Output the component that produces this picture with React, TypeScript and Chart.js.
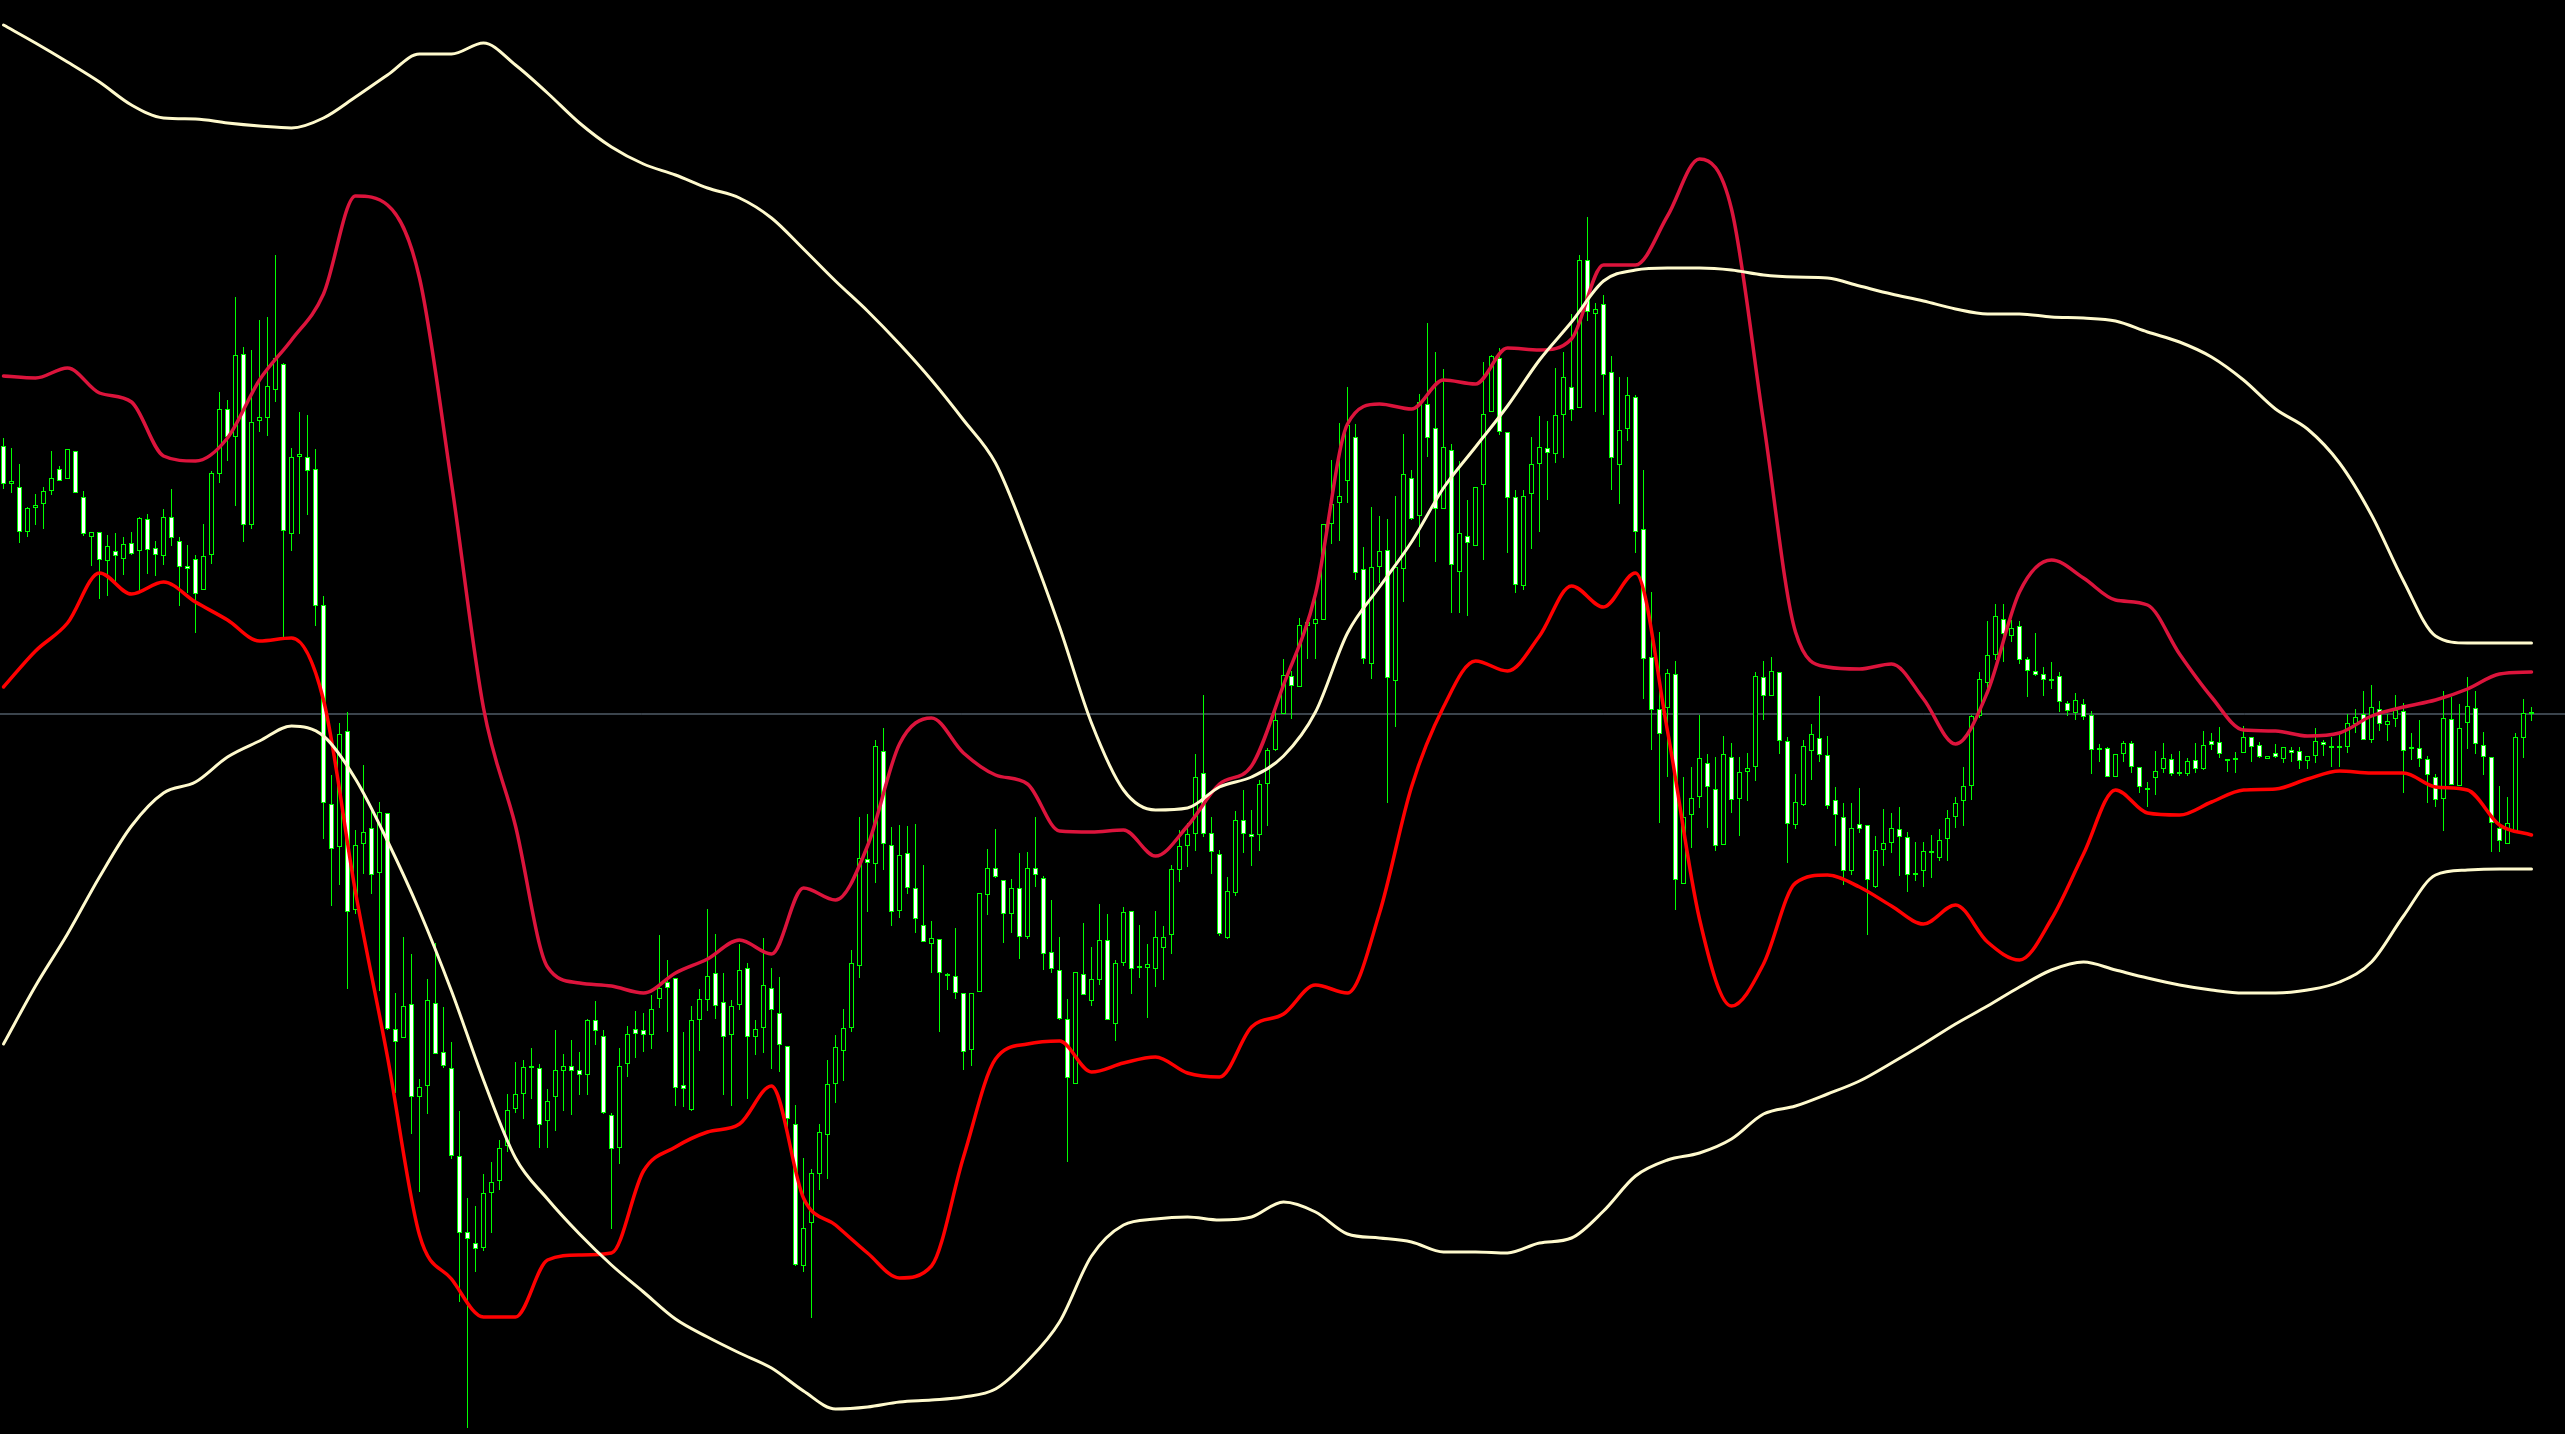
import React, { useEffect, useRef } from "react";
import { Chart, registerables } from "chart.js";

Chart.register(...registerables);

const WIDTH = 2565;
const HEIGHT = 1434;

// Candle OHLC values (price units, one entry per bar)
const opens = [
  988, 950, 947, 902, 926, 930, 943, 965, 955, 983,
  937, 897, 902, 873, 883, 875, 891, 883, 915, 886,
  878, 917, 893, 868, 875, 844, 879, 960, 1025, 997,
  1080, 909, 1013, 1016, 1044, 1070, 900, 977, 977, 965,
  829, 630, 587, 703, 524, 590, 606, 561, 621, 405,
  396, 430, 337, 348, 431, 382, 366, 278, 202, 191,
  186, 241, 253, 288, 325, 340, 366, 366, 313, 337,
  363, 368, 364, 359, 414, 398, 319, 286, 370, 405,
  404, 399, 435, 452, 456, 349, 324, 414, 434, 461,
  432, 399, 429, 466, 397, 406, 446, 421, 388, 310,
  168, 211, 260, 299, 350, 383, 406, 468, 575, 570,
  683, 589, 523, 581, 546, 509, 490, 495, 459, 458,
  441, 384, 442, 539, 566, 554, 520, 546, 497, 566,
  556, 482, 464, 415, 350, 460, 433, 454, 494, 410,
  471, 523, 467, 466, 465, 486, 499, 564, 588, 600,
  661, 601, 580, 496, 541, 614, 600, 599, 650, 684,
  720, 758, 747, 808, 810, 814, 910, 931, 953, 997,
  865, 770, 867, 884, 753, 865, 956, 918, 1030, 1006,
  925, 984, 862, 898, 888, 949, 1022, 1076, 1002, 937,
  848, 940, 970, 986, 980, 1019, 1047, 1026, 1174, 1120,
  1130, 1062, 969, 1005, 1037, 905, 777, 725, 726, 760,
  550, 619, 637, 671, 645, 589, 677, 635, 662, 667,
  757, 738, 762, 693, 609, 629, 683, 696, 679, 634,
  617, 563, 610, 609, 547, 584, 591, 605, 597, 561,
  563, 581, 576, 595, 617, 633, 648, 718, 751, 779,
  815, 798, 808, 775, 763, 760, 755, 758, 731, 721,
  730, 719, 684, 686, 657, 680, 691, 667, 644, 656,
  665, 675, 660, 660, 674, 665, 693, 692, 675, 674,
  681, 697, 689, 675, 681, 675, 684, 683, 673, 678,
  692, 687, 686, 687, 710, 720, 694, 725, 709, 715,
  723, 687, 686, 675, 657, 635, 715, 648, 711, 726,
  689, 677, 606, 590, 603, 696, 720,
];

const highs = [
  996, 986, 970, 927, 940, 947, 983, 968, 985, 983,
  943, 902, 902, 899, 901, 897, 902, 917, 920, 893,
  925, 945, 897, 889, 879, 910, 963, 1042, 1034, 1137,
  1087, 1084, 1114, 1117, 1179, 1071, 986, 1022, 1019, 985,
  838, 659, 711, 722, 604, 669, 628, 632, 621, 441,
  497, 480, 355, 455, 491, 427, 392, 323, 236, 228,
  260, 272, 294, 340, 372, 374, 386, 370, 345, 404,
  380, 394, 382, 415, 433, 404, 321, 386, 408, 423,
  421, 439, 499, 474, 456, 402, 428, 445, 525, 500,
  461, 434, 490, 471, 414, 496, 466, 457, 388, 329,
  276, 265, 310, 374, 399, 425, 484, 617, 620, 694,
  706, 607, 609, 608, 610, 569, 513, 495, 461, 506,
  441, 441, 541, 585, 605, 554, 555, 581, 582, 617,
  558, 534, 497, 435, 462, 511, 487, 530, 520, 474,
  527, 523, 509, 490, 523, 508, 569, 604, 611, 680,
  739, 617, 584, 557, 623, 644, 624, 654, 686, 729,
  775, 763, 816, 816, 839, 910, 974, 1011, 1047, 1010,
  887, 927, 918, 915, 938, 1000, 964, 1040, 1111, 1082,
  1065, 990, 973, 934, 947, 1072, 1079, 1086, 1002, 944,
  944, 997, 1018, 1013, 1066, 1082, 1120, 1179, 1217, 1131,
  1139, 1078, 1057, 1057, 1039, 964, 842, 802, 765, 773,
  657, 667, 719, 680, 677, 698, 691, 677, 681, 762,
  773, 777, 762, 697, 660, 694, 710, 738, 698, 647,
  631, 631, 646, 609, 598, 625, 621, 627, 602, 592,
  592, 599, 605, 624, 637, 667, 719, 762, 813, 830,
  830, 814, 813, 777, 801, 767, 772, 762, 733, 741,
  735, 723, 690, 687, 680, 693, 693, 667, 652, 683,
  691, 680, 683, 676, 691, 703, 701, 707, 675, 682,
  708, 697, 692, 678, 690, 687, 687, 687, 678, 706,
  694, 697, 699, 720, 725, 743, 749, 733, 720, 739,
  731, 701, 714, 678, 660, 743, 737, 730, 757, 743,
  702, 677, 648, 637, 701, 735, 727,
];

const lows = [
  945, 941, 891, 897, 909, 905, 939, 953, 955, 941,
  898, 868, 835, 838, 852, 859, 879, 841, 860, 858,
  869, 888, 828, 841, 801, 844, 870, 951, 973, 928,
  892, 905, 1002, 998, 1032, 796, 883, 900, 919, 808,
  595, 528, 549, 445, 520, 560, 540, 443, 404, 341,
  396, 300, 242, 320, 380, 366, 275, 132, 6, 162,
  183, 201, 244, 282, 321, 315, 335, 286, 286, 303,
  323, 319, 339, 339, 389, 320, 205, 270, 357, 376,
  382, 385, 426, 402, 328, 327, 323, 383, 423, 415,
  339, 328, 424, 335, 379, 381, 365, 362, 301, 168,
  162, 116, 244, 255, 331, 353, 402, 456, 522, 551,
  564, 508, 516, 540, 501, 492, 461, 402, 444, 435,
  364, 368, 442, 519, 556, 491, 501, 475, 495, 547,
  464, 461, 414, 272, 350, 439, 428, 449, 414, 393,
  468, 440, 456, 416, 447, 454, 480, 552, 567, 583,
  597, 560, 498, 495, 538, 581, 568, 583, 608, 683,
  720, 715, 747, 775, 775, 814, 890, 893, 931, 854,
  770, 755, 851, 631, 707, 832, 914, 887, 977, 872,
  925, 821, 821, 818, 888, 874, 1022, 999, 881, 841,
  844, 885, 902, 934, 971, 976, 1013, 1026, 1113, 1022,
  1019, 944, 930, 993, 881, 735, 684, 611, 657, 524,
  550, 586, 626, 606, 583, 589, 621, 598, 633, 653,
  714, 738, 680, 571, 605, 628, 654, 672, 625, 588,
  549, 559, 601, 499, 546, 568, 581, 558, 542, 553,
  547, 556, 573, 573, 606, 608, 634, 716, 746, 774,
  772, 792, 770, 737, 758, 738, 745, 722, 718, 714,
  714, 660, 672, 657, 657, 672, 661, 641, 627, 639,
  661, 658, 658, 658, 661, 664, 684, 676, 662, 661,
  681, 672, 676, 675, 676, 671, 672, 665, 665, 671,
  678, 667, 667, 681, 701, 694, 691, 703, 693, 707,
  641, 674, 667, 631, 627, 603, 649, 648, 685, 680,
  659, 582, 582, 590, 603, 676, 713,
];

const closes = [
  950, 953, 902, 926, 929, 943, 956, 953, 985, 941,
  900, 902, 874, 888, 878, 890, 880, 916, 884, 879,
  917, 896, 867, 865, 840, 878, 961, 1025, 997, 1079,
  909, 1012, 1017, 1048, 1076, 903, 977, 980, 963, 828,
  631, 585, 700, 522, 589, 602, 559, 622, 405, 392,
  428, 337, 347, 434, 380, 368, 278, 201, 195, 185,
  241, 252, 286, 324, 340, 367, 368, 309, 333, 364,
  368, 363, 359, 414, 403, 321, 285, 368, 400, 400,
  399, 425, 446, 446, 346, 345, 414, 435, 458, 428,
  397, 428, 464, 397, 405, 449, 424, 389, 315, 169,
  206, 261, 302, 350, 387, 406, 471, 576, 571, 688,
  590, 522, 579, 546, 515, 492, 496, 461, 458, 441,
  382, 441, 541, 566, 557, 520, 546, 497, 566, 559,
  480, 465, 415, 356, 462, 439, 455, 494, 414, 471,
  522, 465, 466, 470, 497, 497, 565, 588, 600, 657,
  600, 582, 500, 543, 614, 600, 597, 650, 684, 714,
  759, 748, 809, 812, 815, 910, 930, 938, 1009, 861,
  775, 867, 883, 756, 867, 960, 915, 1032, 996, 925,
  987, 869, 901, 891, 947, 1020, 1078, 1002, 936, 849,
  938, 970, 987, 981, 1019, 1057, 1024, 1174, 1122, 1125,
  1059, 976, 1004, 1039, 902, 775, 724, 700, 761, 554,
  617, 636, 676, 647, 588, 680, 634, 662, 666, 758,
  738, 763, 693, 610, 632, 688, 700, 679, 628, 619,
  563, 606, 605, 554, 584, 591, 606, 597, 559, 559,
  583, 582, 594, 616, 631, 648, 718, 755, 779, 818,
  800, 806, 774, 763, 759, 754, 753, 732, 723, 734,
  717, 684, 685, 657, 680, 691, 667, 647, 645, 663,
  676, 660, 661, 673, 665, 689, 689, 680, 673, 676,
  697, 687, 677, 678, 677, 687, 681, 673, 678, 693,
  689, 686, 688, 711, 717, 694, 727, 710, 713, 724,
  683, 685, 675, 659, 634, 716, 649, 706, 728, 690,
  677, 611, 593, 611, 697, 721, 720,
];

// Indicator bands, one value every BAND_STEP bars (bar 0, 4, 8, ... 316)
const BAND_STEP = 4;

const outerUpper = [
  1409, 1391, 1372, 1352, 1329, 1316, 1315, 1311, 1308, 1306,
  1316, 1337, 1359, 1380, 1380, 1391, 1369, 1341, 1311, 1287,
  1270, 1259, 1246, 1236, 1216, 1185, 1153, 1123, 1090, 1054,
  1014, 971, 894, 807, 711, 644, 624, 626, 647, 657,
  678, 722, 801, 847, 892, 946, 987, 1028, 1074, 1112,
  1153, 1164, 1166, 1166, 1164, 1159, 1157, 1156, 1148, 1140,
  1133, 1125, 1120, 1120, 1117, 1116, 1113, 1102, 1092, 1077,
  1054, 1025, 1005, 971, 919, 853, 798, 791, 791, 791,
];

const outerLower = [
  390, 448, 500, 557, 608, 641, 652, 677, 693, 708,
  698, 655, 593, 523, 443, 354, 276, 235, 200, 169,
  142, 115, 97, 81, 66, 43, 25, 27, 32, 34,
  37, 45, 73, 112, 178, 209, 215, 217, 214, 217,
  232, 222, 200, 196, 192, 182, 182, 181, 191, 196,
  223, 258, 274, 281, 295, 320, 328, 340, 353, 371,
  390, 410, 428, 447, 464, 472, 464, 456, 449, 444,
  441, 441, 444, 452, 472, 518, 559, 564, 565, 565,
];

const innerUpper = [
  1058, 1056, 1066, 1041, 1032, 978, 973, 996, 1054, 1094,
  1140, 1238, 1229, 1156, 951, 726, 608, 467, 451, 448,
  441, 461, 475, 494, 480, 546, 534, 588, 690, 716,
  681, 659, 650, 603, 602, 604, 578, 608, 650, 668,
  749, 840, 1010, 1030, 1025, 1054, 1050, 1086, 1084, 1095,
  1169, 1169, 1218, 1275, 1225, 1012, 802, 767, 765, 770,
  735, 690, 742, 842, 874, 856, 834, 829, 780, 737,
  704, 703, 698, 701, 718, 727, 734, 745, 760, 762,
];

const innerLower = [
  747, 783, 811, 861, 840, 852, 832, 814, 793, 796,
  734, 542, 377, 199, 155, 117, 117, 174, 179, 181,
  263, 287, 302, 310, 348, 236, 209, 181, 156, 168,
  277, 375, 390, 393, 362, 371, 377, 361, 357, 407,
  420, 449, 441, 521, 647, 727, 773, 763, 798, 848,
  827, 861, 703, 515, 428, 470, 551, 559, 547, 528,
  510, 529, 492, 474, 515, 580, 644, 621, 619, 632,
  644, 645, 655, 663, 661, 661, 647, 644, 609, 599,
];

const PRICE_LEVEL = 720;

const CANDLE_LINE = "#00FF00";
const BULL_FILL = "#000000";
const BEAR_FILL = "#FFFFFF";
const OUTER_COLOR = "#FFFACD";
const INNER_UP_COLOR = "#DC143C";
const INNER_LOW_COLOR = "#FF0000";
const LEVEL_COLOR = "#778899";

export default function App() {
  const canvasRef = useRef<HTMLCanvasElement | null>(null);

  useEffect(() => {
    const body = document.body;
    const prev = {
      margin: body.style.margin,
      background: body.style.background,
      overflow: body.style.overflow,
    };
    body.style.margin = "0";
    body.style.background = "#000";
    body.style.overflow = "hidden";

    const canvas = canvasRef.current;
    if (!canvas) return;

    const idx = opens.map((_, i) => i);
    const wicks = idx.map((i) => ({ x: i, y: [lows[i], highs[i]] }));
    const bodies = idx.map((i) => ({
      x: i,
      y: [Math.min(opens[i], closes[i]), Math.max(opens[i], closes[i])],
    }));
    const bodyFill = idx.map((i) => (closes[i] < opens[i] ? BEAR_FILL : BULL_FILL));
    const band = (vals: number[]) => vals.map((v, k) => ({ x: k * BAND_STEP, y: v }));

    const xMin = -0.4375;
    const xMax = xMin + WIDTH / 8;

    const lineBase = {
      type: "line" as const,
      pointRadius: 0,
      pointHoverRadius: 0,
      cubicInterpolationMode: "monotone" as const,
      fill: false,
      borderJoinStyle: "round" as const,
      borderCapStyle: "round" as const,
    };

    const chart = new Chart(canvas, {
      type: "bar",
      data: {
        datasets: [
          { ...lineBase, label: "Outer upper", data: band(outerUpper), borderColor: OUTER_COLOR, borderWidth: 3, order: 0 },
          { ...lineBase, label: "Outer lower", data: band(outerLower), borderColor: OUTER_COLOR, borderWidth: 3, order: 0 },
          { ...lineBase, label: "Inner upper", data: band(innerUpper), borderColor: INNER_UP_COLOR, borderWidth: 3.5, order: 0 },
          { ...lineBase, label: "Inner lower", data: band(innerLower), borderColor: INNER_LOW_COLOR, borderWidth: 3.5, order: 0 },
          {
            type: "bar",
            label: "Bodies",
            data: bodies as any,
            backgroundColor: bodyFill,
            borderColor: CANDLE_LINE,
            borderWidth: 1,
            borderSkipped: false,
            barThickness: 5,
            minBarLength: 2,
            grouped: false,
            inflateAmount: 0,
            order: 5,
          },
          {
            type: "bar",
            label: "Wicks",
            data: wicks as any,
            backgroundColor: CANDLE_LINE,
            borderWidth: 0,
            barThickness: 1,
            minBarLength: 1,
            grouped: false,
            inflateAmount: 0,
            order: 6,
          },
          {
            type: "line",
            label: "Level",
            data: [
              { x: xMin, y: PRICE_LEVEL },
              { x: xMax, y: PRICE_LEVEL },
            ],
            pointRadius: 0,
            borderColor: LEVEL_COLOR,
            borderWidth: 1,
            order: 7,
          },
        ] as any,
      },
      options: {
        animation: false,
        responsive: false,
        maintainAspectRatio: false,
        devicePixelRatio: 1,
        layout: { padding: 0 },
        events: [],
        plugins: {
          legend: { display: false },
          tooltip: { enabled: false },
          title: { display: false },
        },
        scales: {
          x: {
            type: "linear",
            display: false,
            min: xMin,
            max: xMax,
            offset: false,
            grid: { display: false },
          },
          y: {
            type: "linear",
            display: false,
            min: 0,
            max: HEIGHT,
            grid: { display: false },
          },
        },
      } as any,
    });

    return () => {
      chart.destroy();
      body.style.margin = prev.margin;
      body.style.background = prev.background;
      body.style.overflow = prev.overflow;
    };
  }, []);

  return (
    <canvas
      ref={canvasRef}
      width={WIDTH}
      height={HEIGHT}
      style={{ display: "block", width: WIDTH, height: HEIGHT, background: "#000" }}
    />
  );
}
